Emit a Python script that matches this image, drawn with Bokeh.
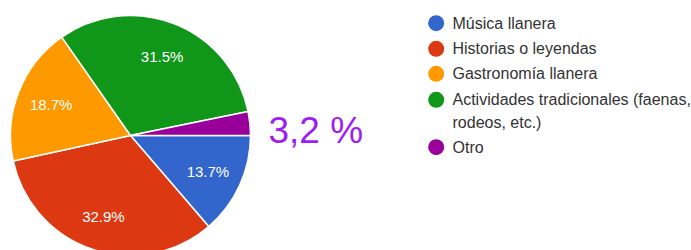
import math
from bokeh.plotting import figure
from bokeh.models import Range1d, ColumnDataSource
from bokeh.core.properties import value
from bokeh.embed import file_html
from bokeh.resources import INLINE

categories = ["Música llanera", "Historias o leyendas", "Gastronomía llanera",
              "Actividades tradicionales (faenas,", "Otro"]
legend_second_line = ["", "", "", "rodeos, etc.)", ""]
percents = [13.7, 32.9, 18.7, 31.5, 3.2]
labels = ["13.7%", "32.9%", "18.7%", "31.5%", ""]
colors = ["#3366cc", "#dc3912", "#ff9900", "#109618", "#990099"]
callout = "3,2 %"

W, H = 691, 250

def Y(ref_y):
    return H - ref_y

p = figure(width=W, height=H, output_backend="svg",
           toolbar_location=None, x_range=Range1d(0, W), y_range=Range1d(0, H),
           min_border=0)
p.axis.visible = False
p.grid.visible = False
p.outline_line_color = None

cx, cy, R = 130, Y(135), 120
total = sum(percents)
starts, ends, lx, ly = [], [], [], []
cum = 0.0
for v in percents:
    a0 = -2 * math.pi * cum / total
    cum += v
    a1 = -2 * math.pi * cum / total
    starts.append(a0)
    ends.append(a1)
    mid = (a0 + a1) / 2
    lx.append(cx + 0.71 * R * math.cos(mid))
    ly.append(cy + 0.71 * R * math.sin(mid))

src = ColumnDataSource(dict(start=starts, end=ends, color=colors, lx=lx, ly=ly, label=labels))
p.wedge(x=cx, y=cy, radius=R, start_angle="start", end_angle="end", direction="clock",
        fill_color="color", line_color="white", line_width=1.5, source=src)
p.text(x="lx", y="ly", text="label", source=src, text_color="white",
       text_font=value("Liberation Sans"), text_font_size="15px",
       text_align="center", text_baseline="middle")

# callout
p.text(x=[268], y=[Y(130)], text=[callout], text_color="#9d1df2",
       text_font=value("Liberation Sans"), text_font_size="37px",
       text_align="left", text_baseline="alphabetic")

# legend
rows = [22.7, 48.3, 73.3, 99.3, 146.7]
p.scatter(x=[435.7] * len(rows), y=[Y(r) for r in rows], size=16, color=colors,
          line_color=None)
p.text(x=[452] * len(rows), y=[Y(r) for r in rows], text=categories, text_color="#333333",
       text_font=value("Liberation Sans"), text_font_size="16px",
       text_align="left", text_baseline="middle")
second = [(Y(r + 22.4), t) for r, t in zip(rows, legend_second_line) if t]
p.text(x=[452] * len(second), y=[s[0] for s in second], text=[s[1] for s in second],
       text_color="#333333", text_font=value("Liberation Sans"), text_font_size="16px",
       text_align="left", text_baseline="middle")

open("out.html", "w").write(file_html(p, INLINE))
